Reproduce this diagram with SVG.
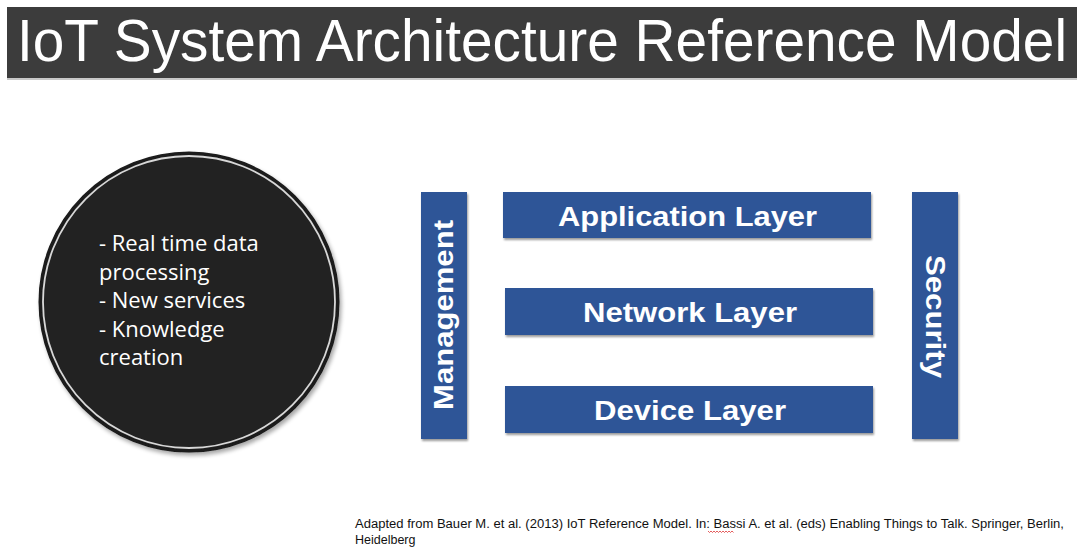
<svg xmlns="http://www.w3.org/2000/svg" width="1077" height="547" viewBox="0 0 1077 547">
<style>
.layer{fill:#2f5597;filter:url(#sh)}
.lt{font-family:"Liberation Sans",Arial,sans-serif;font-weight:bold;font-size:28px;fill:#fff;text-anchor:middle}
.ct{font-family:"Open Sans","Noto Sans",sans-serif;font-size:22px;fill:#fff}
.fn{font-family:"Liberation Sans",Arial,sans-serif;font-size:12.5px;fill:#111}
</style>
<defs>
<filter id="sh" x="-10%" y="-10%" width="130%" height="130%">
<feGaussianBlur in="SourceAlpha" stdDeviation="1.2"/>
<feOffset dx="1" dy="2" result="b"/>
<feComponentTransfer><feFuncA type="linear" slope="0.4"/></feComponentTransfer>
<feMerge><feMergeNode/><feMergeNode in="SourceGraphic"/></feMerge>
</filter>
<filter id="csh" x="-10%" y="-10%" width="125%" height="125%">
<feGaussianBlur in="SourceAlpha" stdDeviation="2"/>
<feOffset dx="2" dy="3" result="b"/>
<feComponentTransfer><feFuncA type="linear" slope="0.35"/></feComponentTransfer>
<feMerge><feMergeNode/><feMergeNode in="SourceGraphic"/></feMerge>
</filter>
</defs>
<rect width="1077" height="547" fill="#fff"/>
<g id="title">
<rect x="7" y="7" width="1070" height="71" fill="#3c3c3c"/>
<rect x="7" y="78" width="1070" height="2" fill="#c8c8c8"/>
<text x="17" y="61" font-family="'Liberation Sans',Arial,sans-serif" font-size="60" fill="#fff" textLength="1050" lengthAdjust="spacingAndGlyphs">IoT System Architecture Reference Model</text>
</g>
<g id="circle">
<circle cx="189" cy="302" r="149" fill="#242424" stroke="#1a1a1a" stroke-width="3" filter="url(#csh)"/>
<circle cx="189" cy="302" r="146" fill="none" stroke="#d8d8d8" stroke-width="1.8"/>
<text class="ct" x="99" y="251">- Real time data</text>
<text class="ct" x="99" y="279.5">processing</text>
<text class="ct" x="99" y="308">- New services</text>
<text class="ct" x="99" y="336.5">- Knowledge</text>
<text class="ct" x="99" y="365">creation</text>
</g>
<g id="management">
<rect class="layer" x="421" y="192" width="46" height="247"/>
<text class="lt" transform="translate(453,315) rotate(-90)" textLength="190" lengthAdjust="spacingAndGlyphs">Management</text>
</g>
<g id="application">
<rect class="layer" x="503" y="192" width="368" height="46"/>
<text class="lt" x="687.5" y="226" textLength="259" lengthAdjust="spacingAndGlyphs">Application Layer</text>
</g>
<g id="network">
<rect class="layer" x="505" y="288" width="368" height="47"/>
<text class="lt" x="690" y="322" textLength="214" lengthAdjust="spacingAndGlyphs">Network Layer</text>
</g>
<g id="device">
<rect class="layer" x="505" y="386" width="368" height="47"/>
<text class="lt" x="690" y="420" textLength="192" lengthAdjust="spacingAndGlyphs">Device Layer</text>
</g>
<g id="security">
<rect class="layer" x="912" y="192" width="46" height="247"/>
<text class="lt" transform="translate(926,316.5) rotate(90)" textLength="123" lengthAdjust="spacingAndGlyphs">Security</text>
</g>
<g id="connectors"></g>
<g id="footnote">
<text class="fn" x="355" y="528" textLength="709" lengthAdjust="spacingAndGlyphs">Adapted from Bauer M. et al. (2013) IoT Reference Model. In: Bassi A. et al. (eds) Enabling Things to Talk. Springer, Berlin,</text>
<text class="fn" x="355" y="544">Heidelberg</text>
<path d="M708 531 l1.5 1.5 l1.5 -1.5 l1.5 1.5 l1.5 -1.5 l1.5 1.5 l1.5 -1.5 l1.5 1.5 l1.5 -1.5 l1.5 1.5 l1.5 -1.5 l1.5 1.5 l1.5 -1.5 l1.5 1.5 l1.5 -1.5 l1.5 1.5 l1.5 -1.5 l1.5 1.5" fill="none" stroke="#d33" stroke-width="0.8"/>
</g>
</svg>
